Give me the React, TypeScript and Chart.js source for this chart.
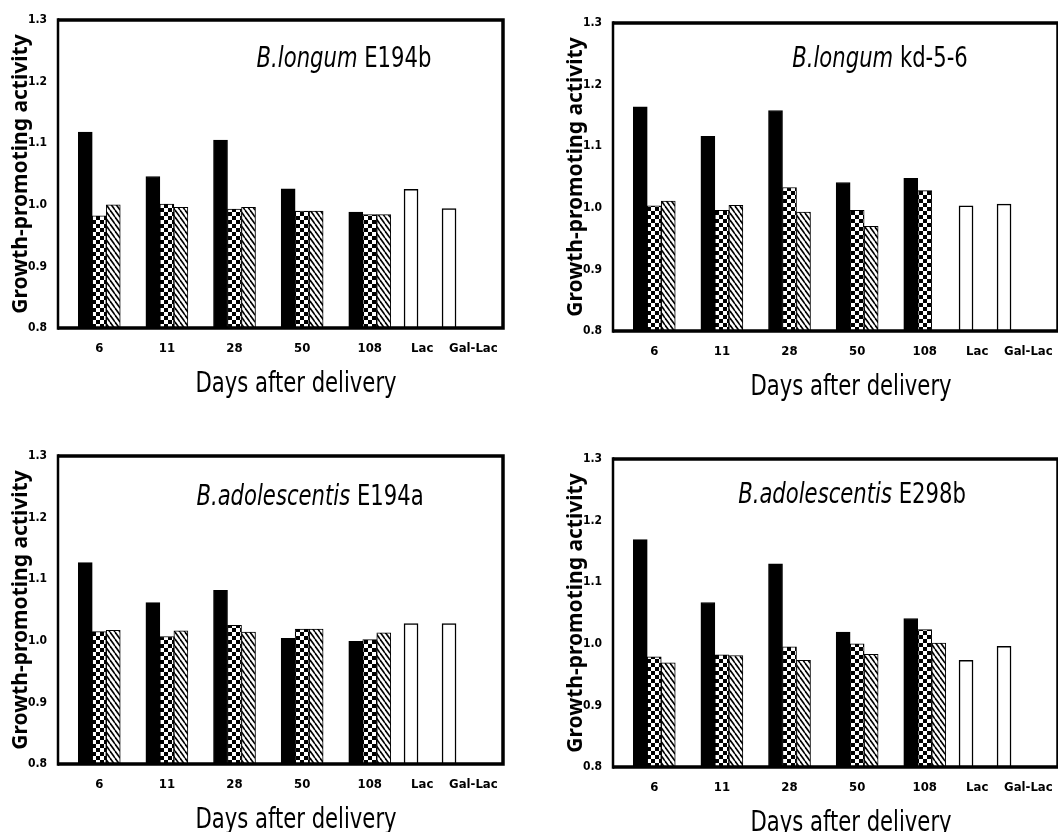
import React, { useEffect, useRef } from 'react';
import { Chart, registerables } from 'chart.js';

Chart.register(...registerables);

// ---------- data ----------
const dayLabels = ['6', '11', '28', '50', '108'];
const controlLabels = ['Lac', 'Gal-Lac'];
const xAxisTitle = 'Days after delivery';
const yAxisTitle = 'Growth-promoting activity';

const p1Species = 'B.longum';
const p1Strain = 'E194b';
const p1Black = [1.118, 1.046, 1.105, 1.026, 0.988];
const p1Checker = [0.982, 1.001, 0.993, 0.99, 0.984];
const p1Hatch = [1.0, 0.996, 0.996, 0.99, 0.984];
const p1Controls = [1.025, 0.994];

const p2Species = 'B.longum';
const p2Strain = 'kd-5-6';
const p2Black = [1.164, 1.116, 1.158, 1.041, 1.048];
const p2Checker = [1.003, 0.996, 1.033, 0.996, 1.028];
const p2Hatch = [1.011, 1.004, 0.993, 0.97, null];
const p2Controls = [1.003, 1.006];

const p3Species = 'B.adolescentis';
const p3Strain = 'E194a';
const p3Black = [1.127, 1.062, 1.082, 1.004, 0.999];
const p3Checker = [1.015, 1.007, 1.025, 1.019, 1.002];
const p3Hatch = [1.017, 1.016, 1.014, 1.019, 1.013];
const p3Controls = [1.028, 1.028];

const p4Species = 'B.adolescentis';
const p4Strain = 'E298b';
const p4Black = [1.169, 1.067, 1.13, 1.019, 1.041];
const p4Checker = [0.979, 0.982, 0.995, 1.0, 1.023];
const p4Hatch = [0.969, 0.981, 0.973, 0.983, 1.001];
const p4Controls = [0.973, 0.996];

const Y_MIN = 0.8;
const Y_MAX = 1.3;
const Y_STEP = 0.1;

// ---------- style / layout ----------
const COND = "'DejaVu Sans Condensed', 'DejaVu Sans', sans-serif";
const SANS = "'Noto Sans', 'DejaVu Sans', sans-serif";
const SQUEEZE = 0.84;
const CANVAS_W = 530;
const CANVAS_H = 416;
// x-scale windows (scale bounds) for the day groups and for the control bars
const X_DAYS_MIN = -0.61;
const X_DAYS_MAX = 5.97;
const X_CTRL_MIN = -9.29;
const X_CTRL_MAX = 2.42;

function makeChecker(): CanvasPattern | string {
  const c = document.createElement('canvas');
  c.width = 8;
  c.height = 8;
  const g = c.getContext('2d');
  if (!g) return '#888';
  g.fillStyle = '#fff';
  g.fillRect(0, 0, 8, 8);
  g.fillStyle = '#000';
  g.fillRect(0, 0, 4, 4);
  g.fillRect(4, 4, 4, 4);
  return g.createPattern(c, 'repeat') || '#888';
}

function makeHatch(): CanvasPattern | string {
  const w = 5;
  const h = 7;
  const c = document.createElement('canvas');
  c.width = w;
  c.height = h;
  const g = c.getContext('2d');
  if (!g) return '#ccc';
  g.fillStyle = '#fff';
  g.fillRect(0, 0, w, h);
  g.strokeStyle = '#000';
  g.lineWidth = 1.6;
  for (const dx of [-w, 0, w]) {
    g.beginPath();
    g.moveTo(dx, 0);
    g.lineTo(dx + w, h);
    g.stroke();
  }
  return g.createPattern(c, 'repeat') || '#ccc';
}

const framePlugin = {
  id: 'frame',
  afterDatasetsDraw(chart: any) {
    const { ctx, chartArea } = chart;
    const { left, top, right, bottom } = chartArea;
    ctx.save();
    ctx.strokeStyle = '#000';
    ctx.lineWidth = 3.5;
    ctx.beginPath();
    ctx.moveTo(left, top);
    ctx.lineTo(right, top);
    ctx.lineTo(right, bottom);
    ctx.lineTo(left, bottom);
    ctx.stroke();
    ctx.lineWidth = 2.5;
    ctx.beginPath();
    ctx.moveTo(left, top - 1.75);
    ctx.lineTo(left, bottom + 1.75);
    ctx.stroke();
    ctx.restore();
  },
};

const textPlugin = {
  id: 'panelText',
  afterDraw(chart: any, _args: any, opts: any) {
    const { ctx, chartArea } = chart;
    ctx.save();
    ctx.fillStyle = '#000';
    ctx.textBaseline = 'alphabetic';
    // panel title: italic species + upright strain (condensed gothic look)
    const f1 = `italic 28px ${COND}`;
    const f2 = `28px ${COND}`;
    ctx.save();
    ctx.translate(chartArea.left + opts.titleX, chartArea.top + opts.titleY);
    ctx.scale(SQUEEZE, 1);
    ctx.font = f1;
    const w1 = ctx.measureText(opts.species).width;
    ctx.font = f2;
    const ws = ctx.measureText(' ').width;
    const w2 = ctx.measureText(opts.strain).width;
    const x0 = -(w1 + ws + w2) / 2;
    ctx.textAlign = 'left';
    ctx.font = f1;
    ctx.fillText(opts.species, x0, 0);
    ctx.font = f2;
    ctx.fillText(opts.strain, x0 + w1 + ws, 0);
    ctx.restore();
    // x-axis title
    ctx.save();
    ctx.translate(chartArea.left + 238, chartArea.bottom + 64);
    ctx.scale(SQUEEZE, 1);
    ctx.font = `28px ${COND}`;
    ctx.textAlign = 'center';
    ctx.fillText(xAxisTitle, 0, 0);
    ctx.restore();
    ctx.restore();
  },
};

function makeOptions(labels: string[], xMin: number, xMax: number, primary: boolean, extra: any) {
  return {
    animation: false,
    responsive: false,
    layout: { padding: { top: 20, right: CANVAS_W - 503, left: 0, bottom: 0 } },
    plugins: {
      legend: { display: false },
      tooltip: { enabled: false },
      ...extra,
    },
    scales: {
      x: {
        type: 'linear',
        position: 'bottom',
        min: xMin,
        max: xMax,
        offset: false,
        grid: { display: false, drawTicks: false },
        border: { display: false },
        afterBuildTicks: (s: any) => {
          s.ticks = labels.map((_, i) => ({ value: i }));
        },
        afterFit: (s: any) => {
          s.height = 88;
        },
        ticks: {
          autoSkip: false,
          maxRotation: 0,
          minRotation: 0,
          padding: 13,
          align: primary ? 'center' : 'start',
          color: '#000',
          font: { family: COND, size: 13, weight: 'bold' },
          callback: (v: any) => labels[v] ?? '',
        },
      },
      y: {
        type: 'linear',
        min: Y_MIN,
        max: Y_MAX,
        beginAtZero: false,
        grid: { display: false, drawTicks: false },
        border: { display: false },
        afterFit: (s: any) => {
          s.width = 58;
        },
        ticks: {
          display: primary,
          stepSize: Y_STEP,
          padding: 11,
          color: '#000',
          font: { family: COND, size: 12, weight: 'bold' },
          callback: (v: any) => Number(v).toFixed(1),
        },
        title: {
          display: primary,
          text: yAxisTitle,
          color: '#000',
          font: { family: SANS, size: 21, weight: 'bold' },
          padding: { top: 8, bottom: 0 },
        },
      },
    },
  } as any;
}

type PanelProps = {
  species: string;
  strain: string;
  black: (number | null)[];
  checker: (number | null)[];
  hatch: (number | null)[];
  controls: (number | null)[];
  titleX: number;
  titleY: number;
  left: number;
  top: number;
};

function Panel(p: PanelProps) {
  const refA = useRef<HTMLCanvasElement | null>(null);
  const refB = useRef<HTMLCanvasElement | null>(null);
  useEffect(() => {
    if (!refA.current || !refB.current) return;
    const toXY = (arr: (number | null)[]) => arr.map((v, i) => ({ x: i, y: v }));
    const barCommon = { borderColor: '#000', barThickness: 14, base: Y_MIN };
    // day groups (black / checker / hatch)
    const chartA = new Chart(refA.current, {
      type: 'bar',
      data: {
        datasets: [
          { label: 'black', data: toXY(p.black) as any, backgroundColor: '#000', borderWidth: 1, ...barCommon },
          { label: 'checker', data: toXY(p.checker) as any, backgroundColor: makeChecker() as any, borderWidth: 1, ...barCommon },
          { label: 'hatch', data: toXY(p.hatch) as any, backgroundColor: makeHatch() as any, borderWidth: 1, ...barCommon },
        ],
      },
      options: makeOptions(dayLabels, X_DAYS_MIN, X_DAYS_MAX, true, {
        panelText: { species: p.species, strain: p.strain, titleX: p.titleX, titleY: p.titleY },
      }),
      plugins: [textPlugin],
    });
    // control sugars (Lac / Gal-Lac), overlaid with the same plot area
    const chartB = new Chart(refB.current, {
      type: 'bar',
      data: {
        datasets: [
          { label: 'control', data: toXY(p.controls) as any, backgroundColor: '#fff', borderWidth: 1.5, ...barCommon },
        ],
      },
      options: makeOptions(controlLabels, X_CTRL_MIN, X_CTRL_MAX, false, {}),
      plugins: [framePlugin],
    });
    return () => {
      chartA.destroy();
      chartB.destroy();
    };
  }, []);
  const cs: React.CSSProperties = { position: 'absolute', left: 0, top: 0, display: 'block' };
  return (
    <div style={{ position: 'absolute', left: p.left, top: p.top, width: CANVAS_W, height: CANVAS_H }}>
      <canvas ref={refA} width={CANVAS_W} height={CANVAS_H} style={cs} />
      <canvas ref={refB} width={CANVAS_W} height={CANVAS_H} style={cs} />
    </div>
  );
}

export default function App() {
  return (
    <div
      style={{
        position: 'absolute',
        left: 0,
        top: 0,
        width: 1058,
        height: 832,
        overflow: 'hidden',
        background: '#fff',
      }}
    >
      <Panel species={p1Species} strain={p1Strain} black={p1Black} checker={p1Checker} hatch={p1Hatch}
        controls={p1Controls} titleX={286} titleY={47} left={0} top={0} />
      <Panel species={p2Species} strain={p2Strain} black={p2Black} checker={p2Checker} hatch={p2Hatch}
        controls={p2Controls} titleX={267} titleY={44} left={555} top={3} />
      <Panel species={p3Species} strain={p3Strain} black={p3Black} checker={p3Checker} hatch={p3Hatch}
        controls={p3Controls} titleX={252} titleY={49} left={0} top={436} />
      <Panel species={p4Species} strain={p4Strain} black={p4Black} checker={p4Checker} hatch={p4Hatch}
        controls={p4Controls} titleX={239} titleY={44} left={555} top={439} />
    </div>
  );
}
